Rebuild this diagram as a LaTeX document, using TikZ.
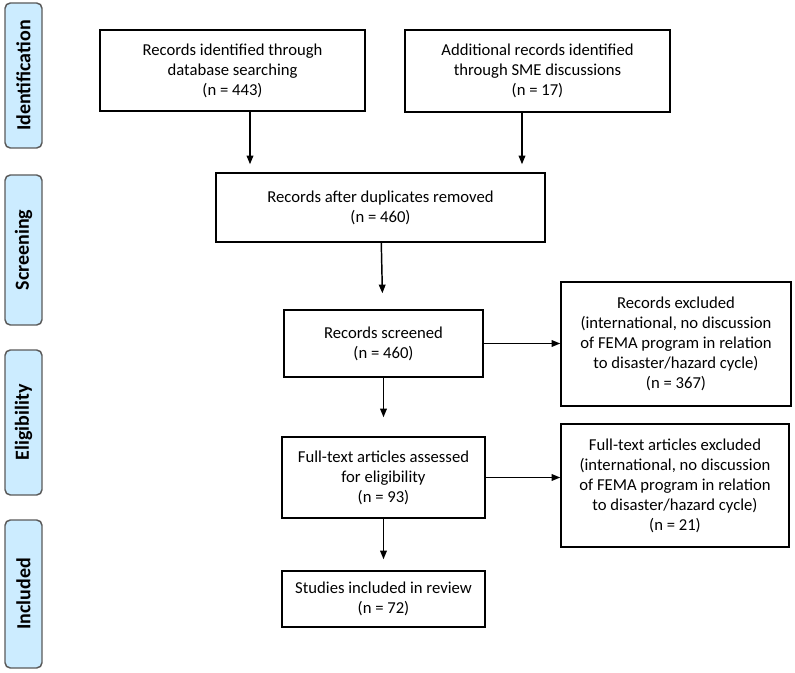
\documentclass[tikz,border=0pt]{standalone}
\usepackage{fontspec}
\setmainfont{Carlito}
\usetikzlibrary{arrows.meta,positioning}

\definecolor{phasefill}{RGB}{204,236,255}
\definecolor{phasedraw}{RGB}{90,90,90}
\newlength\px
\setlength\px{0.75pt}

\begin{document}
\begin{tikzpicture}[x=\px,y=-\px,->,>={Triangle[length=6.5pt,width=5pt]},line width=1.1pt,
                    box/.style={draw,rectangle,line width=1.1pt,align=center,inner sep=2pt,
                                font=\fontsize{12.5}{15}\selectfont},
                    phase/.style={draw=phasedraw,fill=phasefill,rounded corners=4pt,line width=1.1pt,
                                  rotate=90,font=\fontsize{15}{18}\selectfont\bfseries}]

  \useasboundingbox (0,0) rectangle (795,673);

  % phases down the left
  \node[phase, minimum width=145\px, minimum height=37\px] at (23.5,75.5) (ident) {Identification};
  \node[phase, minimum width=150\px, minimum height=37\px] at (23.5,250) (screen) {Screening};
  \node[phase, minimum width=145\px, minimum height=37\px] at (23.5,422.5) (elig) {Eligibility};
  \node[phase, minimum width=148\px, minimum height=37\px] at (23.5,594) (incl) {Included};

  % flow boxes
  \node[box, minimum width=265\px, minimum height=81\px] at (232.5,70.5) (dbsearch)
       {Records identified through\\database searching\\(n = 443)};
  \node[box, minimum width=265\px, minimum height=82\px] at (537.5,71) (smedisc)
       {Additional records identified\\through SME discussions\\(n = 17)};
  \node[box, minimum width=329\px, minimum height=69\px] at (380.5,207.5) (dedup)
       {Records after duplicates removed\\(n = 460)};
  \node[box, minimum width=199\px, minimum height=67\px] at (383.5,343.5) (screened)
       {Records screened\\(n = 460)};
  \node[box, minimum width=230\px, minimum height=124\px] at (676,344) (excl1)
       {Records excluded\\(international, no discussion\\of FEMA program in relation\\to disaster/hazard cycle)\\(n = 367)};
  \node[box, minimum width=203\px, minimum height=81\px] at (383.5,477.5) (fulltext)
       {Full-text articles assessed\\for eligibility\\(n = 93)};
  \node[box, minimum width=228\px, minimum height=123\px] at (675,485.5) (excl2)
       {Full-text articles excluded\\(international, no discussion\\of FEMA program in relation\\to disaster/hazard cycle)\\(n = 21)};
  \node[box, minimum width=203\px, minimum height=56\px] at (383.5,599) (included)
       {Studies included in review\\(n = 72)};

\draw[shorten >=8\px] ([xshift=17.5\px]dbsearch.south) -- ([xshift=17.5\px]dbsearch.south |- dedup.north);
\draw[shorten >=8\px] ([xshift=-15.5\px]smedisc.south) -- ([xshift=-15.5\px]smedisc.south |- dedup.north);
\draw[shorten >=16\px] (dedup) -- (screened);
\draw[shorten >=19\px] (screened) -- (fulltext);
\draw[shorten >=11\px] (fulltext) -- (included);
\draw (screened.east) -- (screened.east -| excl1.west);
\draw (fulltext.east) -- (fulltext.east -| excl2.west);

\end{tikzpicture}
\end{document}
